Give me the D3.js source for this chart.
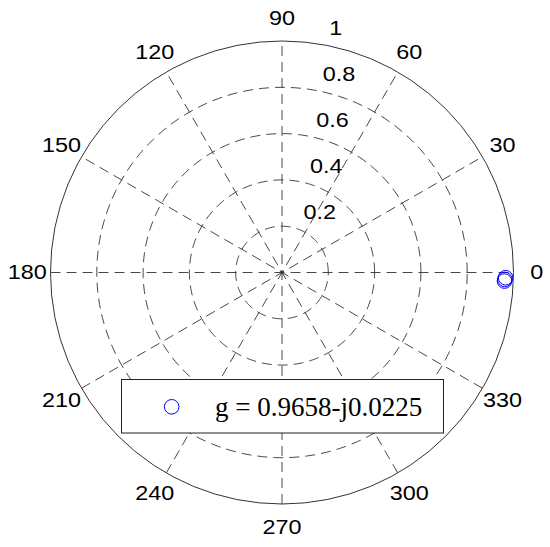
<!DOCTYPE html>
<html>
<head>
<meta charset="utf-8">
<script src="https://cdn.jsdelivr.net/npm/d3@7"></script>
<style>
  html, body { margin: 0; padding: 0; background: #fff; }
  svg { display: block; }
</style>
</head>
<body>
<svg id="chart" width="550" height="547"></svg>
<script>
// ---- data ----
const angleTicks = [0, 30, 60, 90, 120, 150, 180, 210, 240, 270, 300, 330];
const spokeAngles = [0, 30, 60, 90, 120, 150];
const ringTicks = [0.2, 0.4, 0.6, 0.8];
const radialLabels = ["0.2", "0.4", "0.6", "0.8", "1"];
const radialLabelValues = [0.2, 0.4, 0.6, 0.8, 1];
const realParts = [0.9658, 0.9625, 0.9610];
const imagParts = [-0.0225, -0.0300, -0.0370];
const legendLabel = "g = 0.9658-j0.0225";

// ---- layout ----
const W = 550, H = 547;
const cx = 282, cy = 272.5, R = 231.5;
const svg = d3.select("#chart");
const r = d3.scaleLinear().domain([0, 1]).range([0, R]);
const toRad = d => d * Math.PI / 180;
const px = (v, deg) => cx + r(v) * Math.cos(toRad(deg));
const py = (v, deg) => cy - r(v) * Math.sin(toRad(deg));

const gridColor = "#333";
const dash = "10,6";

// white background disc
svg.append("circle").attr("cx", cx).attr("cy", cy).attr("r", R).attr("fill", "#fff");

// dashed rings (starting at angle 0, counter-clockwise)
ringTicks.forEach(v => {
  const pts = d3.range(0, 361, 2).map(a => [px(v, a), py(v, a)]);
  svg.append("path")
    .attr("d", d3.line()(pts))
    .attr("fill", "none")
    .attr("stroke", gridColor)
    .attr("stroke-width", 0.9)
    .attr("stroke-dasharray", dash);
});

// spokes through the full diameter
spokeAngles.forEach(a => {
  svg.append("line")
    .attr("x1", px(1, a + 180)).attr("y1", py(1, a + 180))
    .attr("x2", px(1, a)).attr("y2", py(1, a))
    .attr("stroke", gridColor)
    .attr("stroke-width", 0.9)
    .attr("stroke-dasharray", dash);
});

// outer circle
svg.append("circle").attr("cx", cx).attr("cy", cy).attr("r", r(1))
  .attr("fill", "none").attr("stroke", "#333").attr("stroke-width", 1);

// angle labels
const fs = 19.5, sx = 1.2;
svg.append("g").selectAll("text").data(angleTicks).join("text")
  .attr("transform", d => `translate(${px(1.1, d)},${py(1.1, d) + 0.358 * fs}) scale(${sx},1)`)
  .attr("text-anchor", "middle")
  .attr("font-family", "Liberation Sans, Arial, sans-serif")
  .attr("font-size", fs)
  .attr("fill", "#000")
  .text(d => d);

// radial labels
svg.append("g").selectAll("text").data(radialLabelValues).join("text")
  .attr("transform", d => `translate(${cx + r(d) * Math.cos(toRad(82)) + 15},${cy - r(d) * Math.sin(toRad(82)) - 8}) scale(${sx},1)`)
  .attr("text-anchor", "start")
  .attr("font-family", "Liberation Sans, Arial, sans-serif")
  .attr("font-size", fs)
  .attr("fill", "#000")
  .text((d, i) => radialLabels[i]);

// data markers
const pts = realParts.map((re, i) => [re, imagParts[i]]);
svg.append("g").selectAll("circle").data(pts).join("circle")
  .attr("cx", d => cx + r(d[0]))
  .attr("cy", d => cy - r(d[1]))
  .attr("r", 7.3)
  .attr("fill", "none")
  .attr("stroke", "#0000ff")
  .attr("stroke-width", 1);

// legend
const lg = svg.append("g");
lg.append("rect")
  .attr("x", 121.5).attr("y", 379.5)
  .attr("width", 322).attr("height", 53.5)
  .attr("fill", "#fff").attr("stroke", "#222").attr("stroke-width", 1);
lg.append("circle")
  .attr("cx", 171.7).attr("cy", 406.8).attr("r", 7.3)
  .attr("fill", "none").attr("stroke", "#0000ff").attr("stroke-width", 1);
lg.append("text")
  .attr("transform", "translate(215,416) scale(0.965,1)")
  .attr("font-family", "Liberation Serif, Times New Roman, serif")
  .attr("font-size", 28)
  .attr("fill", "#000")
  .text(legendLabel);
</script>
</body>
</html>
